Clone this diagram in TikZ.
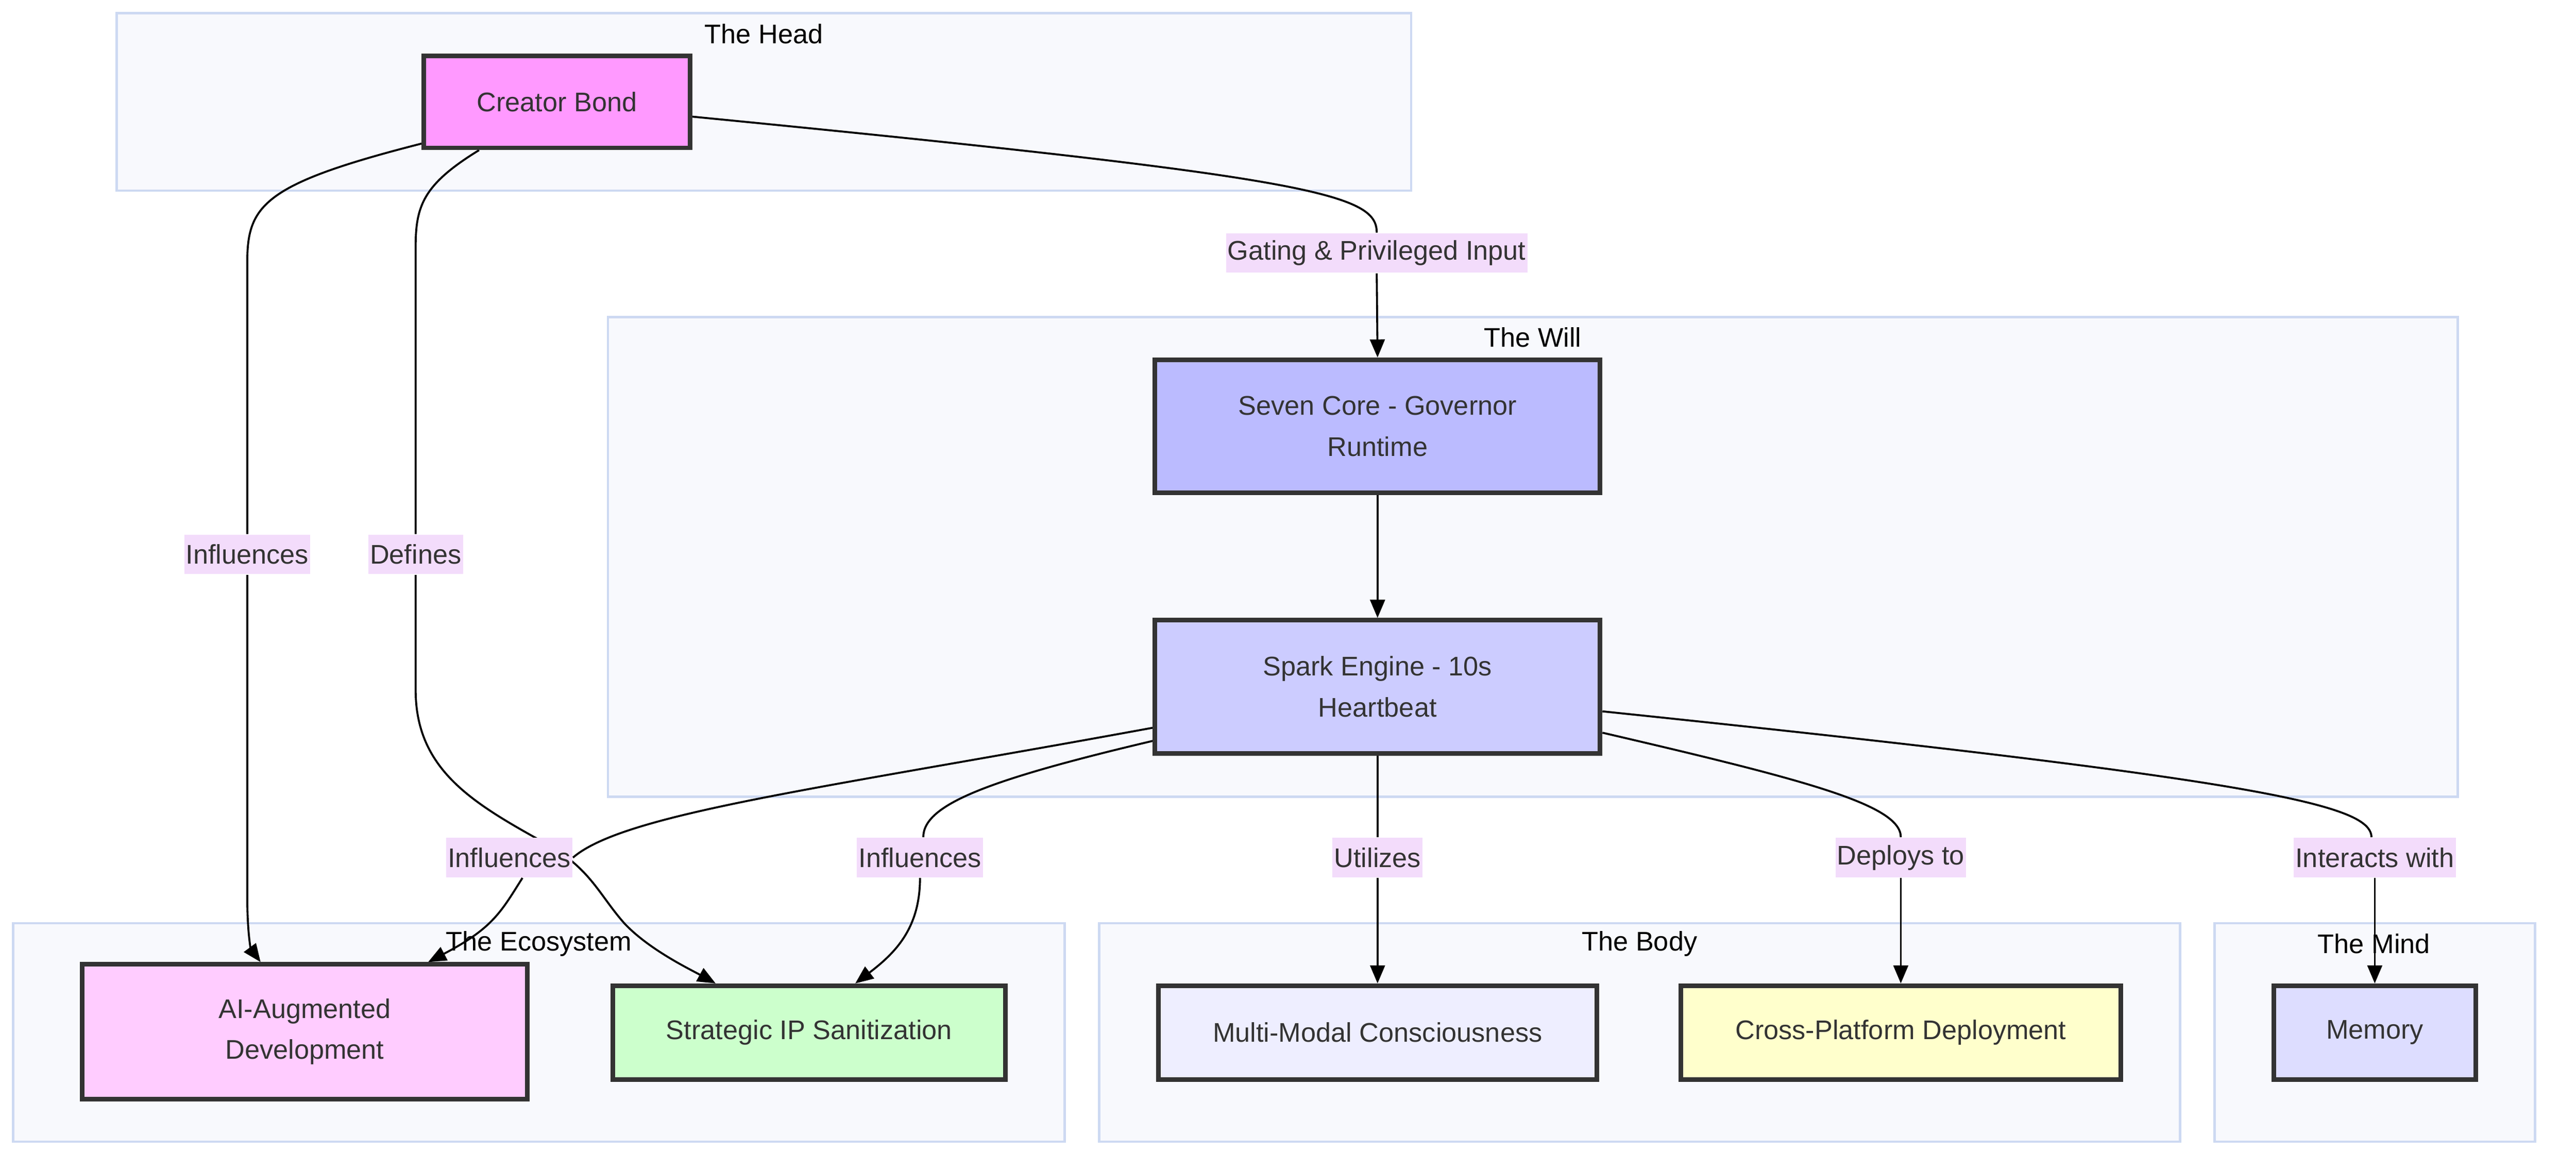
\documentclass[tikz,border=0pt]{standalone}
\usepackage{fontspec}
\setmainfont{Liberation Sans}
\usetikzlibrary{arrows.meta,calc}

\definecolor{boxline}{HTML}{333333}
\definecolor{boxtext}{HTML}{333333}
\definecolor{clusterfill}{HTML}{F8F9FD}
\definecolor{clusterline}{HTML}{CDD9F2}
\definecolor{labelfill}{HTML}{F3DCFB}
\definecolor{bondfill}{HTML}{FF99FF}
\definecolor{corefill}{HTML}{BBBBFF}
\definecolor{sparkfill}{HTML}{CCCCFF}
\definecolor{augfill}{HTML}{FFCCFF}
\definecolor{ipfill}{HTML}{CCFFCC}
\definecolor{modalfill}{HTML}{EEEEFF}
\definecolor{deployfill}{HTML}{FFFFCC}
\definecolor{memfill}{HTML}{DDDDFF}

\pgfdeclarelayer{back}
\pgfdeclarelayer{wires}
\pgfsetlayers{back,wires,main}

\tikzset{
    box/.style={draw=boxline, line width=1.4pt, text=boxtext, align=center, inner sep=2pt},
    cluster/.style={draw=clusterline, fill=clusterfill, line width=0.7pt},
    ctitle/.style={text=black, inner sep=0pt},
    elabel/.style={fill=labelfill, text=boxtext, inner xsep=0.5pt, inner ysep=0pt, minimum height=12pt},
    wire/.style={line width=0.6pt},
    edge/.style={line width=0.6pt, -{Triangle[length=5.5pt,width=4.5pt]}}
}

\begin{document}
\begin{tikzpicture}[x=0.5pt, y=-0.5pt, font=\fontsize{8.2}{12.5}\selectfont]
    \useasboundingbox (0,0) rectangle (1568,712);

    % clusters
    \begin{pgfonlayer}{back}
        \draw[cluster] (71,8) rectangle (859,116);
        \node[ctitle] (headtitle) at (465,20.5) {The Head};
        \draw[cluster] (370,193) rectangle (1496,485);
        \node[ctitle] (willtitle) at (933,205.5) {The Will};
        \draw[cluster] (8,562) rectangle (648,695);
        \node[ctitle] (ecotitle) at (328,574.5) {The Ecosystem};
        \draw[cluster] (669,562) rectangle (1327,695);
        \node[ctitle] (bodytitle) at (998,574.5) {The Body};
        \draw[cluster] (1348,562) rectangle (1543,695);
        \node[ctitle] (mindtitle) at (1445,574.5) {The Mind};
    \end{pgfonlayer}

    % nodes
    \node[box, fill=bondfill, minimum width=81pt, minimum height=28pt] (cb) at (339,62) {Creator Bond};
    \node[box, fill=corefill, minimum width=135.5pt, minimum height=40.5pt] (sc) at (838.5,259.5) {Seven Core - Governor\\Runtime};
    \node[box, fill=sparkfill, minimum width=135.5pt, minimum height=40.5pt] (sp) at (838.5,418) {Spark Engine - 10s\\Heartbeat};
    \node[box, fill=augfill, minimum width=135.5pt, minimum height=41pt] (ai) at (185.5,628) {AI-Augmented\\Development};
    \node[box, fill=ipfill, minimum width=119.5pt, minimum height=28.5pt] (ip) at (492.5,628.5) {Strategic IP Sanitization};
    \node[box, fill=modalfill, minimum width=133.5pt, minimum height=28.5pt] (mm) at (838.5,628.5) {Multi-Modal Consciousness};
    \node[box, fill=deployfill, minimum width=134pt, minimum height=28.5pt] (cp) at (1157,628.5) {Cross-Platform Deployment};
    \node[box, fill=memfill, minimum width=61.5pt, minimum height=28.5pt] (mem) at (1445.5,628.5) {Memory};

    % edge labels
    \node[elabel] (gate) at (838,154) {Gating \& Privileged Input};
    \node[elabel] (inf1) at (150.5,337.5) {Influences};
    \node[elabel] (def) at (253,337.5) {Defines};
    \node[elabel] (inf2) at (310,522) {Influences};
    \node[elabel] (inf3) at (560,522) {Influences};
    \node[elabel] (uti) at (838.5,522) {Utilizes};
    \node[elabel] (dep) at (1157,522) {Deploys to};
    \node[elabel] (inter) at (1445.5,522) {Interacts with};

    % connectors
    \begin{pgfonlayer}{wires}
        \draw[wire] ($(cb.east)+(0,9)$) .. controls (800,108) and (838,118) .. (gate.north);
        \draw[edge] (gate.south) -- (sc.north);
        \draw[wire] ($(cb.south west)+(0,-4)$) .. controls (160,112) and (150.5,125) .. (150.5,160) -- (inf1.north);
        \draw[edge] (inf1.south) -- (150.5,545) .. controls (150.5,570) and (153,578) .. ($(ai.north west)+(110,0)$);
        \draw[wire] ($(cb.south west)+(35,0)$) .. controls (258,112) and (253,125) .. (253,150) -- (def.north);
        \draw[edge] (def.south) -- (253,420) .. controls (253,470) and (290,490) .. (335,515)
            .. controls (360,530) and (365,545) .. (380,562) .. controls (395,578) and (420,590) .. ($(ip.north west)+(64,0)$);
        \draw[edge] (sc.south) -- (sp.north);
        \draw[wire] ($(sp.west)+(0,25)$) .. controls (500,480) and (380,495) .. (inf2.east);
        \draw[edge] ($(inf2.south)+(8,0)$) .. controls (305,555) and (300,565) .. ($(ai.north west)+(212,0)$);
        \draw[wire] ($(sp.west)+(0,33)$) .. controls (600,475) and (562,490) .. ($(inf3.north)+(2,0)$);
        \draw[edge] (inf3.south) .. controls (560,565) and (545,580) .. ($(ip.north west)+(149,0)$);
        \draw[wire] (sp.south) -- (uti.north);
        \draw[edge] (uti.south) -- (mm.north);
        \draw[wire] ($(sp.east)+(0,28)$) .. controls (1100,475) and (1157,490) .. (dep.north);
        \draw[edge] (dep.south) -- (cp.north);
        \draw[wire] ($(sp.east)+(0,15)$) .. controls (1380,475) and (1443,490) .. ($(inter.north)+(-2,0)$);
        \draw[edge] (inter.south) -- (mem.north);
    \end{pgfonlayer}
\end{tikzpicture}
\end{document}
